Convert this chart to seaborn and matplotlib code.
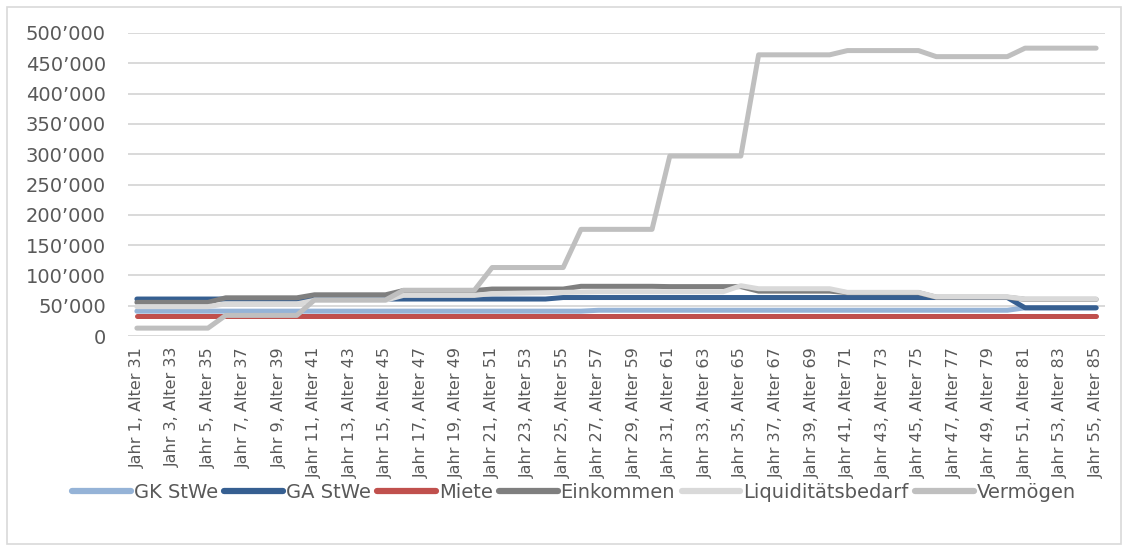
import matplotlib
matplotlib.use("Agg")
import matplotlib.pyplot as plt
from matplotlib.patches import Rectangle
import pandas as pd
import seaborn as sns

# Werte in Franken, Jahr 1 .. Jahr 55
jahre = list(range(1, 56))
kategorien = [f"Jahr {j}, Alter {j + 30}" for j in jahre]

gk_stwe = [41000, 41000, 41000, 41000, 41000, 41000, 41000, 41000, 41000, 41000,
           41000, 41000, 41000, 41000, 41000, 41000, 41000, 41000, 41000, 41000,
           41000, 41000, 41000, 41000, 41000, 41000, 42500, 42500, 42500, 42500,
           42500, 42500, 42500, 42500, 42500, 42500, 42500, 42500, 42500, 42500,
           42500, 42500, 42500, 42500, 42500, 42500, 42500, 42500, 42500, 42500,
           46500, 46500, 46500, 46500, 46500]
ga_stwe = [61000, 61000, 61000, 61000, 61000, 61000, 61000, 61000, 61000, 61000,
           61000, 61000, 61000, 61000, 61000, 61000, 61000, 61000, 61000, 61000,
           61000, 61000, 61000, 61000, 63500, 63500, 63500, 63500, 63500, 63500,
           63500, 63500, 63500, 63500, 63500, 63500, 63500, 63500, 63500, 63500,
           63500, 63500, 63500, 63500, 63500, 63500, 63500, 63500, 63500, 63500,
           46500, 46500, 46500, 46500, 46500]
miete = [33500] * 55
einkommen = [55500, 55500, 55500, 55500, 55500, 63000, 63000, 63000, 63000, 63000,
             68000, 68000, 68000, 68000, 68000, 75000, 75000, 75000, 75000, 75000,
             77500, 77500, 77500, 77500, 77500, 82000, 82000, 82000, 82000, 82000,
             81500, 81500, 81500, 81500, 81500, 74000, 74000, 74000, 74000, 74000,
             71500, 71500, 71500, 71500, 71500, 64000, 64000, 64000, 64000, 64000,
             60500, 60500, 60500, 60500, 60500]
liquiditaet = [48500, 48500, 48500, 48500, 48500, 53000, 53000, 53000, 53000, 53000,
               59000, 59000, 59000, 59000, 59000, 67000, 67000, 67000, 67000, 67000,
               70000, 70500, 71000, 71500, 72000, 72500, 73000, 73000, 73000, 73000,
               73000, 73000, 73000, 73000, 83000, 78000, 78000, 78000, 78000, 78000,
               72000, 72000, 72000, 72000, 72000, 64500, 64500, 64500, 64500, 64500,
               61000, 61000, 61000, 61000, 61000]
vermoegen = [13000, 13000, 13000, 13000, 13000, 34000, 34000, 34000, 34000, 34000,
             59500, 59500, 59500, 59500, 59500, 75500, 75500, 75500, 75500, 75500,
             113000, 113000, 113000, 113000, 113000, 176000, 176000, 176000, 176000, 176000,
             297000, 297000, 297000, 297000, 297000, 464000, 464000, 464000, 464000, 464000,
             471000, 471000, 471000, 471000, 471000, 461000, 461000, 461000, 461000, 461000,
             475000, 475000, 475000, 475000, 475000]

reihen = ["GK StWe", "GA StWe", "Miete", "Einkommen", "Liquiditätsbedarf", "Vermögen"]
farben = {"GK StWe": "#95B3D7", "GA StWe": "#365F91", "Miete": "#C0504D",
          "Einkommen": "#7F7F7F", "Liquiditätsbedarf": "#D9D9D9", "Vermögen": "#BFBFBF"}

werte = [gk_stwe, ga_stwe, miete, einkommen, liquiditaet, vermoegen]
df = pd.concat([pd.DataFrame({"pos": range(55), "wert": w, "reihe": r})
                for r, w in zip(reihen, werte)], ignore_index=True)

sns.set_theme(style="white")
plt.rcParams["font.family"] = ["DejaVu Sans"]

fig = plt.figure(figsize=(11.29, 5.5), dpi=100)
ax = fig.add_axes([128 / 1129, 1 - 336 / 550, 977 / 1129, 303 / 550])

sns.lineplot(data=df, x="pos", y="wert", hue="reihe", hue_order=reihen, palette=farben,
             estimator=None, errorbar=None, sort=False, linewidth=3.6,
             solid_capstyle="round", ax=ax)

ax.set_xlim(-0.5, 54.5)
ax.set_ylim(0, 500000)
ax.set_yticks(range(0, 500001, 50000))
ax.set_yticklabels([f"{v:,}".replace(",", "’") for v in range(0, 500001, 50000)])
ax.set_xticks(range(0, 55, 2))
ax.set_xticklabels(kategorien[::2], rotation=90, ha="center", va="top")
ax.set_xlabel("")
ax.set_ylabel("")

ax.yaxis.grid(True, color="#D9D9D9", linewidth=1.4)
ax.set_axisbelow(True)
for s in ax.spines.values():
    s.set_visible(False)
ax.tick_params(axis="y", length=0, pad=16, labelsize=14, labelcolor="#595959")
ax.tick_params(axis="x", length=0, pad=8, labelsize=11.5, labelcolor="#595959")

handles, labels = ax.get_legend_handles_labels()
ax.get_legend().remove()
leg = fig.legend(handles, labels, loc="center", bbox_to_anchor=(574 / 1129, 1 - 492 / 550),
                 ncol=6, frameon=False, fontsize=14, handlelength=3.0,
                 handletextpad=0.15, columnspacing=0.35, labelcolor="#595959")
for h in leg.get_lines():
    h.set_linewidth(4.5)
    h.set_solid_capstyle("round")

fig.add_artist(Rectangle((7 / 1129, 1 - 544 / 550), 1114 / 1129, 537 / 550,
                         transform=fig.transFigure, fill=False, ec="#D9D9D9", lw=1.2))

fig.savefig("out.png", dpi=100)
